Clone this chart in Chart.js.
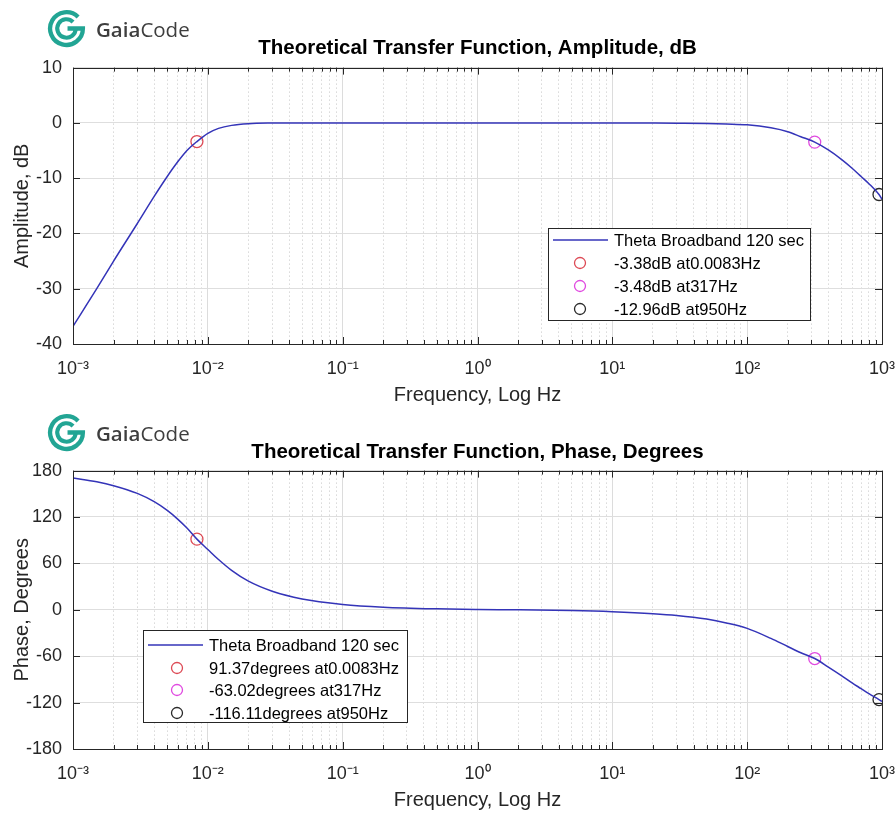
<!DOCTYPE html>
<html><head><meta charset="utf-8">
<script src="https://cdn.jsdelivr.net/npm/chart.js@4.4.1/dist/chart.umd.min.js"></script>
<style>
html,body{margin:0;padding:0;background:#fff;}
#page{position:relative;width:896px;height:814px;overflow:hidden;background:#fff;}
canvas{position:absolute;left:0;}
.logo{position:absolute;left:46px;display:flex;align-items:center;z-index:2;font-family:'Open Sans',sans-serif;font-size:20.5px;color:#3e3e3e;}
.logo svg{width:41px;height:41px;margin-right:9px;}
.logo b{font-weight:600;}
</style></head>
<body><div id="page">
<canvas id="ampChart" width="896" height="410" style="top:0px"></canvas>
<canvas id="phaseChart" width="896" height="404" style="top:410px"></canvas>
<div class="logo" style="top:8px"><svg viewBox="0 0 40 40"><path d="M31.3 8.7 A16 16 0 1 0 36 20 L21 20" fill="none" stroke="#22a594" stroke-width="4.2"/><path d="M26.4 13.6 A9 9 0 1 0 29 20" fill="none" stroke="#22a594" stroke-width="4"/></svg><span><b>Gaia</b>Code</span></div>
<div class="logo" style="top:412px"><svg viewBox="0 0 40 40"><path d="M31.3 8.7 A16 16 0 1 0 36 20 L21 20" fill="none" stroke="#22a594" stroke-width="4.2"/><path d="M26.4 13.6 A9 9 0 1 0 29 20" fill="none" stroke="#22a594" stroke-width="4"/></svg><span><b>Gaia</b>Code</span></div>
</div>
<script>
// ---------- data ----------
const FREQ = [0.001,0.0015,0.002,0.003,0.004,0.005,0.006,0.007,0.0083,0.01,0.012,0.015,0.02,0.03,0.05,0.1,0.2,0.5,1,2,5,10,20,30,50,70,100,150,200,250,317,400,500,600,700,800,950,1000];
const AMP_DB = [-36.8,-30.0,-25.0,-18.2,-13.3,-9.7,-7.0,-5.0,-3.38,-1.9,-1.0,-0.45,-0.15,-0.03,0,0,0,0,0,0,0,-0.01,-0.03,-0.05,-0.1,-0.2,-0.35,-0.9,-1.6,-2.5,-3.48,-4.9,-6.6,-8.2,-9.7,-11.0,-12.96,-13.8];
const PHASE_DEG = [170.5,165.5,160.5,150.5,139.8,128.5,117,105.8,91.37,78,65,51,37,24,14,7,3.4,1.2,0.4,0,-1,-2.5,-5,-7.3,-12,-17,-24,-37,-47.5,-55.5,-63.02,-74,-85,-94.5,-102,-108.5,-116.11,-118.5];
const MARK_FREQ = [0.0083, 317, 950];
const MARK_AMP = [-3.38, -3.48, -12.96];
const MARK_PHASE = [91.37, -63.02, -116.11];
const SERIES_LABEL = 'Theta Broadband 120 sec';
const AMP_LABELS = ['-3.38dB at0.0083Hz', '-3.48dB at317Hz', '-12.96dB at950Hz'];
const PHASE_LABELS = ['91.37degrees at0.0083Hz', '-63.02degrees at317Hz', '-116.11degrees at950Hz'];
const X_DECADES = [-3, -2, -1, 0, 1, 2, 3];
const X_TICK_LABELS = ['10\u207B\u00B3', '10\u207B\u00B2', '10\u207B\u00B9', '10\u2070', '10\u00B9', '10\u00B2', '10\u00B3'];
const AMP_TICKS = [-40, -30, -20, -10, 0, 10];
const PHASE_TICKS = [-180, -120, -60, 0, 60, 120, 180];

// ---------- styles ----------
const FONT = "'Liberation Sans', Arial, sans-serif";
const AXIS_COLOR = '#262626';
const LINE_COLOR = '#3434b8';
const MARK_COLORS = ['#dd4a55', '#e04ae0', '#2a2a2a'];
const X_MULTS = [1,2,3,4,5,6,7,8,9];

function isMajor(v){ const l = Math.log10(v); return Math.abs(l - Math.round(l)) < 1e-6; }
function xTickValues(){
  const out = [];
  X_DECADES.forEach((e, i) => X_MULTS.forEach(m => {
    if (i === X_DECADES.length - 1 && m > 1) return;
    out.push(m * Math.pow(10, e));
  }));
  return out;
}
function xLabel(v){
  if (!isMajor(v)) return '';
  const e = Math.round(Math.log10(v));
  const k = X_DECADES.indexOf(e);
  return k >= 0 ? X_TICK_LABELS[k] : '';
}

function makeChart(cfg){
  const datasets = [{
    label: SERIES_LABEL,
    data: FREQ.map((f, i) => ({x: f, y: cfg.values[i]})),
    borderColor: LINE_COLOR, borderWidth: 1.5, pointRadius: 0,
    cubicInterpolationMode: 'monotone', fill: false
  }];
  MARK_FREQ.forEach((f, i) => datasets.push({
    label: cfg.markLabels[i],
    data: [{x: f, y: cfg.markValues[i]}],
    showLine: false, pointStyle: 'circle', pointRadius: 6, pointHoverRadius: 6,
    borderColor: MARK_COLORS[i], backgroundColor: 'rgba(0,0,0,0)', borderWidth: 1.3
  }));

  const boxPlugin = {
    id: 'axesBox',
    afterDraw(chart){
      const {ctx, chartArea: a, scales} = chart;
      ctx.save();
      ctx.strokeStyle = AXIS_COLOR; ctx.lineWidth = 1;
      ctx.beginPath();
      xTickValues().forEach(v => {
        const px = Math.round(scales.x.getPixelForValue(v)) + 0.5;
        const len = isMajor(v) ? 7 : 4;
        ctx.moveTo(px, a.bottom); ctx.lineTo(px, a.bottom - len);
        ctx.moveTo(px, a.top); ctx.lineTo(px, a.top + len);
      });
      cfg.yTicks.forEach(v => {
        const py = Math.round(scales.y.getPixelForValue(v)) + 0.5;
        ctx.moveTo(a.left, py); ctx.lineTo(a.left + 7, py);
        ctx.moveTo(a.right, py); ctx.lineTo(a.right - 7, py);
      });
      ctx.stroke();
      ctx.strokeRect(Math.round(a.left) + 0.5, Math.round(a.top) + 0.5, Math.round(a.right - a.left), Math.round(a.bottom - a.top));
      // legend
      const L = cfg.legend;
      ctx.fillStyle = '#fff';
      ctx.fillRect(L.x, L.y, L.w, L.h);
      ctx.strokeStyle = AXIS_COLOR;
      ctx.strokeRect(L.x + 0.5, L.y + 0.5, L.w, L.h);
      ctx.font = '16.5px ' + FONT;
      ctx.textBaseline = 'middle'; ctx.textAlign = 'left';
      chart.data.datasets.forEach((ds, i) => {
        const ry = L.rows[i];
        if (i === 0) {
          ctx.strokeStyle = LINE_COLOR; ctx.lineWidth = 1.5;
          ctx.beginPath(); ctx.moveTo(L.lineX1, ry); ctx.lineTo(L.lineX2, ry); ctx.stroke();
        } else {
          ctx.strokeStyle = ds.borderColor; ctx.lineWidth = 1.3;
          ctx.beginPath(); ctx.arc(L.markX, ry, 5.5, 0, Math.PI * 2); ctx.stroke();
        }
        ctx.fillStyle = '#000';
        ctx.fillText(ds.label, L.textX, ry + 1);
      });
      ctx.restore();
    }
  };

  return new Chart(document.getElementById(cfg.id), {
    type: 'line',
    data: {datasets},
    plugins: [boxPlugin],
    options: {
      responsive: false, animation: false, devicePixelRatio: 1,
      layout: {padding: {left: 0, right: 14, top: 0, bottom: 0}},
      plugins: {
        legend: {display: false}, tooltip: {enabled: false},
        title: {display: true, text: cfg.title, fullSize: false, color: '#000',
          font: {family: FONT, size: 20.5, weight: 'bold'},
          padding: {top: cfg.tTop, bottom: cfg.tBot}}
      },
      scales: {
        x: {
          type: 'logarithmic', position: 'bottom', min: 0.001, max: 1000,
          afterBuildTicks: s => { s.ticks = xTickValues().map(v => ({value: v})); },
          afterFit: s => { s.height = cfg.xHeight; s.paddingLeft = 0; s.paddingRight = 0; },
          ticks: {autoSkip: false, maxRotation: 0, minRotation: 0, padding: 14, color: AXIS_COLOR,
            font: {family: FONT, size: 18}, callback: v => xLabel(v)},
          grid: {drawTicks: false, lineWidth: 1, color: c => (c.tick && isMajor(c.tick.value)) ? '#dcdcdc' : 'rgba(0,0,0,0)'},
          border: {display: false},
          title: {display: true, text: 'Frequency, Log Hz', color: AXIS_COLOR,
            font: {family: FONT, size: 20}, padding: {top: 0, bottom: cfg.xtBot}}
        },
        x2: {
          type: 'logarithmic', position: 'bottom', min: 0.001, max: 1000,
          afterBuildTicks: s => { s.ticks = xTickValues().map(v => ({value: v})); },
          afterFit: s => { s.height = 0; s.paddingLeft = 0; s.paddingRight = 0; },
          ticks: {display: false},
          grid: {drawTicks: false, lineWidth: 1, color: c => (c.tick && !isMajor(c.tick.value)) ? '#c4c4c4' : 'rgba(0,0,0,0)'},
          border: {display: false, dash: [1, 3]}
        },
        y: {
          min: cfg.yTicks[0], max: cfg.yTicks[cfg.yTicks.length - 1],
          afterBuildTicks: s => { s.ticks = cfg.yTicks.map(v => ({value: v})); },
          afterFit: s => { s.width = 73; },
          ticks: {padding: 11, color: AXIS_COLOR, font: {family: FONT, size: 18}},
          grid: {drawTicks: false, color: '#dedede', lineWidth: 1},
          border: {display: false},
          title: {display: true, text: cfg.yTitle, color: AXIS_COLOR,
            font: {family: FONT, size: 20}, padding: {top: 10, bottom: 0}}
        }
      }
    }
  });
}

makeChart({
  id: 'ampChart', values: AMP_DB, markValues: MARK_AMP, markLabels: AMP_LABELS,
  yTicks: AMP_TICKS, title: 'Theoretical Transfer Function, Amplitude, dB', yTitle: 'Amplitude, dB',
  tTop: 36, tBot: 7, xHeight: 66, xtBot: 3,
  legend: {x: 548, y: 228, w: 262, h: 92, rows: [240, 263, 286, 309], lineX1: 553, lineX2: 608, markX: 580, textX: 614}
});
makeChart({
  id: 'phaseChart', values: PHASE_DEG, markValues: MARK_PHASE, markLabels: PHASE_LABELS,
  yTicks: PHASE_TICKS, title: 'Theoretical Transfer Function, Phase, Degrees', yTitle: 'Phase, Degrees',
  tTop: 30, tBot: 6, xHeight: 65, xtBot: 2,
  legend: {x: 143, y: 220, w: 264, h: 92, rows: [235, 258, 280, 303], lineX1: 148, lineX2: 203, markX: 177, textX: 209}
});
</script>
</body></html>
